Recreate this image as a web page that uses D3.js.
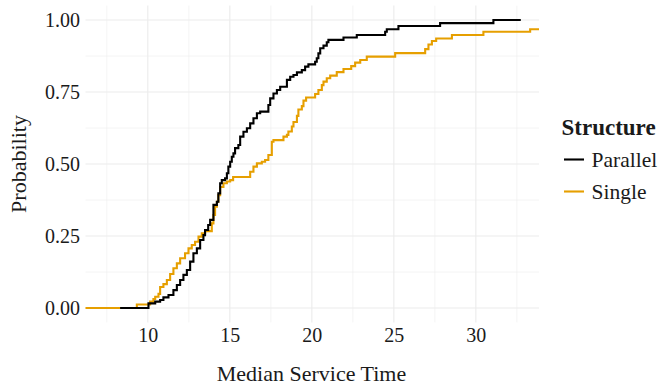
<!DOCTYPE html>
<html>
<head>
<meta charset="utf-8">
<script src="https://cdn.jsdelivr.net/npm/d3@7"></script>
</head>
<body style="margin:0">
<svg id="chart" width="660" height="384" font-family="Liberation Serif"></svg>
<script>
// Empirical CDF of median service time, by server structure.
// Each series is a list of step corners: at time x the cumulative probability becomes p.
const parallelX = [8.31, 10.04, 10.45, 10.75, 10.95, 11.26, 11.56, 11.77, 11.97, 12.17, 12.38,
  12.58, 12.78, 12.99, 13.19, 13.39, 13.49, 13.68, 13.80, 14.00, 14.21, 14.30, 14.41, 14.51,
  14.71, 14.82, 14.91, 15.02, 15.12, 15.22, 15.32, 15.52, 15.63, 15.83, 16.04, 16.24, 16.44,
  16.65, 16.85, 17.35, 17.46, 17.66, 17.87, 18.07, 18.48, 18.68, 18.88, 19.09, 19.39, 19.59,
  19.79, 20.20, 20.30, 20.40, 20.51, 20.71, 20.91, 21.01, 21.93, 22.74, 24.47, 24.57, 25.28,
  27.82, 31.07, 32.74];
const parallelP = [0, 0.016, 0.022, 0.028, 0.037, 0.045, 0.062, 0.080, 0.097, 0.115, 0.132,
  0.161, 0.190, 0.207, 0.236, 0.253, 0.271, 0.288, 0.306, 0.358, 0.369, 0.398, 0.433, 0.444,
  0.450, 0.468, 0.491, 0.508, 0.525, 0.537, 0.555, 0.566, 0.595, 0.612, 0.624, 0.641, 0.659,
  0.676, 0.682, 0.705, 0.728, 0.745, 0.757, 0.768, 0.792, 0.803, 0.809, 0.818, 0.826, 0.838,
  0.846, 0.855, 0.867, 0.884, 0.902, 0.911, 0.923, 0.931, 0.939, 0.948, 0.959, 0.968, 0.979,
  0.989, 1.000, 1.000];

const singleX = [6.0, 9.33, 10.14, 10.34, 10.45, 10.65, 10.75, 10.95, 11.16, 11.36, 11.56,
  11.77, 11.97, 12.27, 12.48, 12.68, 12.88, 13.09, 13.29, 13.49, 13.90, 14.00, 14.10, 14.21,
  14.30, 14.41, 14.61, 14.82, 15.02, 15.20, 16.24, 16.44, 16.65, 16.95, 17.15, 17.35, 17.56,
  17.66, 18.27, 18.48, 18.57, 18.78, 18.88, 19.09, 19.18, 19.39, 19.49, 19.65, 20.20, 20.40,
  20.61, 20.71, 20.91, 21.12, 21.52, 21.93, 22.40, 22.64, 22.95, 23.35, 25.08, 26.91, 27.11,
  27.32, 27.58, 28.54, 30.46, 33.31, 34.5];
const singleP = [0, 0.012, 0.022, 0.031, 0.039, 0.049, 0.073, 0.083, 0.097, 0.118, 0.138,
  0.155, 0.173, 0.190, 0.207, 0.219, 0.230, 0.248, 0.259, 0.267, 0.294, 0.323, 0.352, 0.369,
  0.392, 0.420, 0.433, 0.439, 0.444, 0.455, 0.473, 0.491, 0.502, 0.508, 0.514, 0.531, 0.577,
  0.583, 0.595, 0.601, 0.613, 0.630, 0.646, 0.667, 0.689, 0.701, 0.720, 0.731, 0.743, 0.757,
  0.774, 0.786, 0.798, 0.807, 0.819, 0.830, 0.840, 0.852, 0.861, 0.873, 0.885, 0.899, 0.915,
  0.927, 0.936, 0.948, 0.959, 0.968, 0.968];

const seriesNames = ["Parallel", "Single"];
const seriesColors = ["#000000", "#E69F00"];

const xTicks = [10, 15, 20, 25, 30];
const xMinor = [7.5, 12.5, 17.5, 22.5, 27.5, 32.5];
const yTicks = [0, 0.25, 0.5, 0.75, 1];
const yMinor = [0.125, 0.375, 0.625, 0.875];

const FONT = "Liberation Serif";
const ink = "#1a1a1a";

const svg = d3.select("#chart");
const panel = { left: 85.5, right: 539, top: 5.6, bottom: 322.4 };

const x = d3.scaleLinear().domain([6.2, 33.85]).range([panel.left, panel.right]);
const y = d3.scaleLinear().domain([-0.05, 1.05]).range([panel.bottom, panel.top]);

// grid
const grid = svg.append("g");
grid.selectAll("line.xmin").data(xMinor).join("line")
  .attr("x1", d => x(d)).attr("x2", d => x(d))
  .attr("y1", panel.top).attr("y2", panel.bottom)
  .attr("stroke", "#ebebeb").attr("stroke-width", 0.55);
grid.selectAll("line.ymin").data(yMinor).join("line")
  .attr("y1", d => y(d)).attr("y2", d => y(d))
  .attr("x1", panel.left).attr("x2", panel.right)
  .attr("stroke", "#ebebeb").attr("stroke-width", 0.55);
grid.selectAll("line.xmaj").data(xTicks).join("line")
  .attr("x1", d => x(d)).attr("x2", d => x(d))
  .attr("y1", panel.top).attr("y2", panel.bottom)
  .attr("stroke", "#ebebeb").attr("stroke-width", 1.1);
grid.selectAll("line.ymaj").data(yTicks).join("line")
  .attr("y1", d => y(d)).attr("y2", d => y(d))
  .attr("x1", panel.left).attr("x2", panel.right)
  .attr("stroke", "#ebebeb").attr("stroke-width", 1.1);

// clip to panel
svg.append("defs").append("clipPath").attr("id", "panel-clip")
  .append("rect")
  .attr("x", panel.left).attr("y", panel.top - 2)
  .attr("width", panel.right - panel.left).attr("height", panel.bottom - panel.top + 4);

const step = d3.line().x(d => x(d[0])).y(d => y(d[1])).curve(d3.curveStepAfter);
const series = [
  d3.zip(parallelX, parallelP),
  d3.zip(singleX, singleP)
];
const lines = svg.append("g").attr("clip-path", "url(#panel-clip)");
// draw Single first so Parallel sits on top
[1, 0].forEach(i => {
  lines.append("path")
    .datum(series[i])
    .attr("fill", "none")
    .attr("stroke", seriesColors[i])
    .attr("stroke-width", 2.1)
    .attr("d", step);
});

// axes (labels only, no domain lines or tick marks)
const xAxis = d3.axisBottom(x).tickValues(xTicks).tickSize(0).tickPadding(0)
  .tickFormat(d3.format("d"));
const gx = svg.append("g").call(xAxis);
gx.attr("font-family", FONT).attr("font-size", 20);
gx.select(".domain").remove();
gx.selectAll("text")
  .attr("font-family", FONT).attr("font-size", 20)
  .attr("y", 341.5).attr("dy", null).attr("fill", ink);

const yAxis = d3.axisLeft(y).tickValues(yTicks).tickSize(0).tickPadding(0)
  .tickFormat(d3.format(".2f"));
const gy = svg.append("g").attr("transform", "translate(80, 0)").call(yAxis);
gy.attr("font-family", FONT).attr("font-size", 20);
gy.select(".domain").remove();
gy.selectAll("text")
  .attr("font-family", FONT).attr("font-size", 20)
  .attr("x", 0).attr("dy", "0.34em").attr("fill", ink);

// axis titles
svg.append("text")
  .attr("x", 311.5).attr("y", 380.5)
  .attr("text-anchor", "middle")
  .attr("font-family", FONT).attr("font-size", 22).attr("fill", ink)
  .text("Median Service Time");

svg.append("text")
  .attr("transform", `translate(25.5, ${y(0.5)}) rotate(-90)`)
  .attr("text-anchor", "middle")
  .attr("font-family", FONT).attr("font-size", 22).attr("fill", ink)
  .text("Probability");

// legend
const legend = svg.append("g");
legend.append("text")
  .attr("x", 561.5).attr("y", 135)
  .attr("font-family", FONT).attr("font-size", 23).attr("font-weight", "bold")
  .attr("fill", ink)
  .text("Structure");
const legendY = [159.5, 191.5];
seriesNames.forEach((name, i) => {
  legend.append("line")
    .attr("x1", 564).attr("x2", 584)
    .attr("y1", legendY[i]).attr("y2", legendY[i])
    .attr("stroke", seriesColors[i]).attr("stroke-width", 2.1);
  legend.append("text")
    .attr("x", 591.5).attr("y", legendY[i]).attr("dy", "0.34em")
    .attr("font-family", FONT).attr("font-size", 21.5).attr("fill", ink)
    .text(name);
});
</script>
</body>
</html>
